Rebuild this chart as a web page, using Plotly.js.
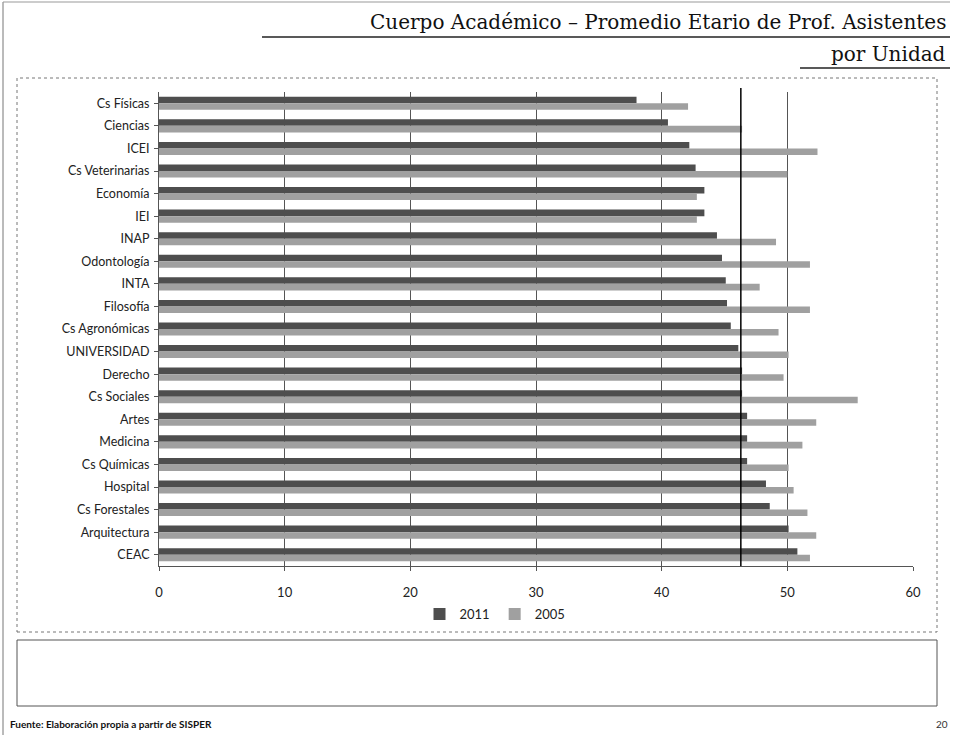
<!DOCTYPE html>
<html>
<head>
<meta charset="utf-8">
<script src="https://cdn.plot.ly/plotly-3.0.1.min.js"></script>
<style>html,body{margin:0;padding:0;background:#fff;}#chart{width:955px;height:737px;}</style>
</head>
<body>
<div id="chart"></div>
<script>
const categories = ["Cs Físicas","Ciencias","ICEI","Cs Veterinarias","Economía","IEI","INAP","Odontología","INTA","Filosofía","Cs Agronómicas","UNIVERSIDAD","Derecho","Cs Sociales","Artes","Medicina","Cs Químicas","Hospital","Cs Forestales","Arquitectura","CEAC"];
const values2011 = [38.0,40.5,42.2,42.7,43.4,43.4,44.4,44.8,45.1,45.2,45.5,46.1,46.4,46.4,46.8,46.8,46.8,48.3,48.6,50.1,50.8];
const values2005 = [42.1,46.4,52.4,50.0,42.8,42.8,49.1,51.8,47.8,51.8,49.3,50.1,49.7,55.6,52.3,51.2,50.1,50.5,51.6,52.3,51.8];
const seriesNames = ["2011","2005"];
const referenceLine = 46.3;
const xTicks = [0,10,20,30,40,50,60];

const W = 955, H = 737;
const L = 159, R = 913, T = 92, B = 566;
const px = x => (x - L) / (R - L);
const py = y => (B - y) / (B - T);

const traces = [
  {type:'bar', orientation:'h', name:seriesNames[0], y:categories, x:values2011,
   marker:{color:'#4e4e4e', line:{width:0}}},
  {type:'bar', orientation:'h', name:seriesNames[1], y:categories, x:values2005,
   marker:{color:'#a0a0a0', line:{width:0}}}
];

const font = "Lato, 'Liberation Sans', sans-serif";
const serif = "'DejaVu Serif', 'Liberation Serif', serif";
const layout = {
  width:W, height:H,
  margin:{l:L, r:W-R, t:T, b:H-B, pad:0},
  paper_bgcolor:'#fff', plot_bgcolor:'#fff',
  barmode:'group', bargap:0.42, bargroupgap:0,
  showlegend:true,
  legend:{orientation:'h', x:px(495), xanchor:'center', y:py(614), yanchor:'middle',
          font:{family:font, size:13, color:'#222'}, itemwidth:30},
  xaxis:{range:[0,60], tickvals:xTicks, showgrid:true, gridcolor:'#555', gridwidth:1,
         zeroline:false, showline:true, linecolor:'#555', linewidth:1,
         ticks:'outside', ticklen:4, tickcolor:'#555', ticklabelstandoff:10,
         tickfont:{family:font, size:13, color:'#222'}, fixedrange:true},
  yaxis:{type:'category', autorange:'reversed', showgrid:false, showline:true,
         linecolor:'#555', linewidth:1, ticks:'outside', ticklen:4, tickcolor:'#555',
         ticklabelstandoff:2,
         tickfont:{family:font, size:12.5, color:'#222'}, fixedrange:true},
  shapes:[
    {type:'line', xref:'x', yref:'paper', x0:referenceLine, x1:referenceLine, y0:0, y1:py(88), line:{color:'#000', width:1.5}},
    {type:'rect', xref:'paper', yref:'paper', x0:px(17), x1:px(937), y0:py(632), y1:py(78), line:{color:'#777', width:1, dash:'dot'}},
    {type:'rect', xref:'paper', yref:'paper', x0:px(17), x1:px(937), y0:py(706), y1:py(640), line:{color:'#555', width:1}},
    {type:'line', xref:'paper', yref:'paper', x0:px(262), x1:px(950), y0:py(37), y1:py(37), line:{color:'#222', width:1.5}},
    {type:'line', xref:'paper', yref:'paper', x0:px(800), x1:px(950), y0:py(68), y1:py(68), line:{color:'#222', width:1.5}},
    {type:'line', xref:'paper', yref:'paper', x0:px(3), x1:px(3), y0:py(735), y1:py(2), line:{color:'#777', width:1}},
    {type:'line', xref:'paper', yref:'paper', x0:px(3), x1:px(950), y0:py(2), y1:py(2), line:{color:'#999', width:1}}
  ],
  annotations:[
    {xref:'paper', yref:'paper', x:px(948), y:py(22), xanchor:'right', yanchor:'middle', showarrow:false,
     text:'Cuerpo Académico – Promedio Etario de Prof. Asistentes',
     font:{family:serif, size:20, color:'#111'}},
    {xref:'paper', yref:'paper', x:px(948), y:py(54), xanchor:'right', yanchor:'middle', showarrow:false,
     text:'por Unidad',
     font:{family:serif, size:20, color:'#111'}},
    {xref:'paper', yref:'paper', x:px(8), y:py(724), xanchor:'left', yanchor:'middle', showarrow:false,
     text:'<b>Fuente: Elaboración propia a partir de SISPER</b>',
     font:{family:font, size:10, color:'#111'}},
    {xref:'paper', yref:'paper', x:px(950), y:py(724), xanchor:'right', yanchor:'middle', showarrow:false,
     text:'20', font:{family:font, size:10, color:'#333'}}
  ]
};

Plotly.newPlot('chart', traces, layout, {displayModeBar:false, staticPlot:true});
</script>
</body>
</html>
